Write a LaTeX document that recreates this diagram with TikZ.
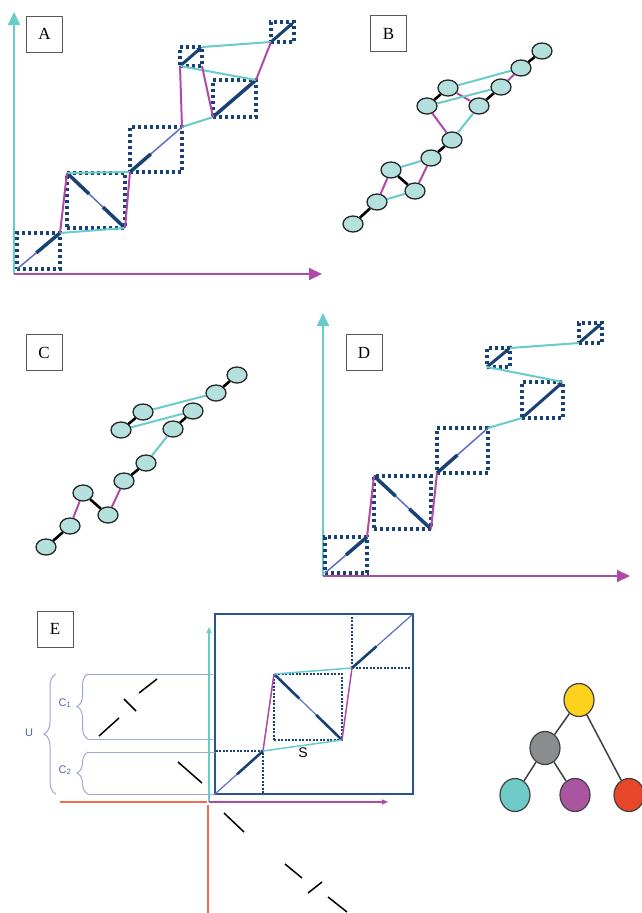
\documentclass[tikz,border=0pt]{standalone}
\usepackage{fontspec}
\setmainfont{Liberation Serif}
\setsansfont{Liberation Sans}
\usetikzlibrary{arrows.meta,calc,shapes.geometric,decorations.pathreplacing}
\definecolor{cteal}{RGB}{104,204,202}
\definecolor{cmag}{RGB}{176,74,168}
\definecolor{cnavy}{RGB}{24,66,115}
\definecolor{cblue}{RGB}{92,112,196}
\definecolor{cbead}{RGB}{180,224,222}
\definecolor{clav}{RGB}{160,168,212}
\definecolor{clabel}{RGB}{80,100,170}
\definecolor{corange}{RGB}{240,110,80}
\definecolor{cframe}{RGB}{40,85,145}
\definecolor{tyellow}{RGB}{252,210,30}
\definecolor{tgray}{RGB}{138,140,142}
\definecolor{tteal}{RGB}{110,203,200}
\definecolor{tpurple}{RGB}{170,85,160}
\definecolor{tred}{RGB}{232,70,40}

\begin{document}
\begin{tikzpicture}[x=1pt,y=-1pt,
	panel/.style={draw=black!65,line width=0.9pt,minimum width=36pt,minimum height=36pt,inner sep=0pt,font=\fontsize{17}{17}\selectfont},
	dotbox/.style={draw=cnavy,line width=3.2pt,dash pattern=on 3pt off 3pt,inner sep=0pt,outer sep=0pt},
	finebox/.style={draw=cnavy,line width=2pt,dash pattern=on 2pt off 1.5pt,inner sep=0pt,outer sep=0pt},
	bead/.style={ellipse,draw=black!85,fill=cbead,line width=1.3pt,minimum width=20pt,minimum height=16pt,inner sep=0pt},
	ball/.style={ellipse,draw=black!75,line width=1.2pt,minimum width=30pt,minimum height=33pt,inner sep=0pt},
	tline/.style={cteal,line width=2pt},
	mline/.style={cmag,line width=2pt},
	kline/.style={black,line width=2.6pt},
	thickseg/.style={cnavy,line width=3.5pt},
	thinseg/.style={cblue,line width=1.5pt},
	arrowseg/.style={cnavy,line width=3pt,-{Latex[length=5pt,width=6pt]}},
	axisline/.style={line width=2pt,-{Triangle[length=13pt,width=12pt]}}]
		\fill[white] (0,0) rectangle (642,913);
		\useasboundingbox (0,0) rectangle (642,913);

		% A
		\draw[axisline,cteal] (14,274) -- (14,12);
		\draw[axisline,cmag] (14,274) -- (322,274);
		\node[panel] (labA) at (44.5,34) {A};
		\draw
		node[dotbox,minimum width=43pt,minimum height=36pt] (A1) at (38.5,251) {}
		node[dotbox,minimum width=58pt,minimum height=55pt] (A2) at (96,200.5) {}
		node[dotbox,minimum width=52pt,minimum height=45pt] (A3) at (156,149.5) {}
		node[dotbox,minimum width=22pt,minimum height=19pt] (A4) at (191,56.5) {}
		node[dotbox,minimum width=43pt,minimum height=37pt] (A5) at (234.5,98.5) {}
		node[dotbox,minimum width=23pt,minimum height=20pt] (A6) at (282.5,32) {};
		\draw[thinseg] (A1.south west) -- (A1.north east);
			\draw[thickseg] ($(A1.south west)!0.45!(A1.north east)$) -- (A1.north east);
		\draw[thinseg] (A2.north west) -- (A2.south east);
			\draw[thickseg] (A2.north west) -- ($(A2.north west)!0.38!(A2.south east)$);
			\draw[thickseg] ($(A2.north west)!0.62!(A2.south east)$) -- (A2.south east);
		\draw[thinseg] (A3.south west) -- (A3.north east);
			\draw[thickseg] (A3.south west) -- ($(A3.south west)!0.4!(A3.north east)$);
		\draw[arrowseg] (A4.south west) -- (A4.north east);
		\draw[thickseg] (A5.south west) -- (A5.north east);
		\draw[arrowseg] (A6.south west) -- (A6.north east);
		\draw[tline] (A1.north east) -- (A2.south east);
		\draw[tline] (A2.north west) -- (A3.south west);
		\draw[tline] (A3.north east) -- (A5.south west);
		\draw[tline] (A4.south west) -- (A5.north east);
		\draw[tline] (A4.north east) -- (A6.south west);
		\draw[mline] (A1.north east) -- (A2.north west);
		\draw[mline] (A2.south east) -- (A3.south west);
		\draw[mline] (A3.north east) -- (A4.south west);
		\draw[mline] (A4.south east) -- (A5.south west);
		\draw[mline] (A5.north east) -- (A6.south west);

		% B
		\node[panel] (labB) at (388.5,33.5) {B};
		\draw
		node[bead] (b1) at (353,224) {}
		node[bead] (b2) at (377,202) {}
		node[bead] (b3) at (391,170) {}
		node[bead] (b4) at (415,191) {}
		node[bead] (b5) at (431,158) {}
		node[bead] (b6) at (452,140) {}
		node[bead] (b7) at (427,106) {}
		node[bead] (b8) at (448,88) {}
		node[bead] (b9) at (479,106) {}
		node[bead] (b10) at (501,87) {}
		node[bead] (b11) at (521,68) {}
		node[bead] (b12) at (542,51) {};
		\draw[kline] (b1) -- (b2);
		\draw[kline] (b3) -- (b4);
		\draw[kline] (b5) -- (b6);
		\draw[kline] (b7) -- (b8);
		\draw[kline] (b9) -- (b10);
		\draw[kline] (b11) -- (b12);
		\draw[mline] (b2) -- (b3);
		\draw[mline] (b4) -- (b5);
		\draw[mline] (b7) -- (b6);
		\draw[mline] (b8) -- (b9);
		\draw[mline] (b10) -- (b11);
		\draw[tline] (b2) -- (b4);
		\draw[tline] (b3) -- (b5);
		\draw[tline] (b6) -- (b9);
		\draw[tline] (b7) -- (b10);
		\draw[tline] (b8) -- (b11);

		% C
		\node[panel] (labC) at (44,352.5) {C};
		\draw
		node[bead] (c1) at (46,547) {}
		node[bead] (c2) at (70,526) {}
		node[bead] (c3) at (83,493) {}
		node[bead] (c4) at (108,515) {}
		node[bead] (c5) at (124,481) {}
		node[bead] (c6) at (146,463) {}
		node[bead] (c7) at (173,429) {}
		node[bead] (c8) at (193,411) {}
		node[bead] (c9) at (121,430) {}
		node[bead] (c10) at (143,412) {}
		node[bead] (c11) at (216,393) {}
		node[bead] (c12) at (237,375) {};
		\draw[kline] (c1) -- (c2);
		\draw[kline] (c3) -- (c4);
		\draw[kline] (c5) -- (c6);
		\draw[kline] (c7) -- (c8);
		\draw[kline] (c9) -- (c10);
		\draw[kline] (c11) -- (c12);
		\draw[mline] (c2) -- (c3);
		\draw[mline] (c4) -- (c5);
		\draw[tline] (c6) -- (c7);
		\draw[tline] (c9) -- (c8);
		\draw[tline] (c10) -- (c11);

		% D
		\draw[axisline,cteal] (323,576) -- (323,313);
		\draw[axisline,cmag] (323,576) -- (630,576);
		\node[panel] (labD) at (364,352.5) {D};
		\draw
		node[dotbox,minimum width=42pt,minimum height=36pt] (D1) at (346,555) {}
		node[dotbox,minimum width=57pt,minimum height=53pt] (D2) at (402.5,502.5) {}
		node[dotbox,minimum width=51pt,minimum height=45pt] (D3) at (462.5,450.5) {}
		node[dotbox,minimum width=41pt,minimum height=36pt] (D4) at (542.5,400) {}
		node[dotbox,minimum width=23pt,minimum height=19pt] (D5) at (498.5,357.5) {}
		node[dotbox,minimum width=23pt,minimum height=20pt] (D6) at (590.5,333) {};
		\draw[thinseg] (D1.south west) -- (D1.north east);
			\draw[thickseg] ($(D1.south west)!0.5!(D1.north east)$) -- (D1.north east);
		\draw[thinseg] (D2.north west) -- (D2.south east);
			\draw[thickseg] (D2.north west) -- ($(D2.north west)!0.38!(D2.south east)$);
			\draw[thickseg] ($(D2.north west)!0.62!(D2.south east)$) -- (D2.south east);
		\draw[thinseg] (D3.south west) -- (D3.north east);
			\draw[thickseg] (D3.south west) -- ($(D3.south west)!0.4!(D3.north east)$);
		\draw[arrowseg] (D4.south west) -- (D4.north east);
		\draw[arrowseg] (D5.south west) -- (D5.north east);
		\draw[arrowseg] (D6.south west) -- (D6.north east);
		\draw[mline] (D1.north east) -- (D2.north west);
		\draw[mline] (D2.south east) -- (D3.south west);
		\draw[tline] (D3.north east) -- (D4.south west);
		\draw[tline] (D4.north east) -- (D5.south west);
		\draw[tline] (D5.north east) -- (D6.south west);

		% E
		\node[panel] (labE) at (55,629) {E};
		\draw[corange,line width=1.6pt] (60,802) -- (207,802);
		\draw[corange,line width=1.6pt] (208,805) -- (208,913);
		\draw[cteal,line width=1.2pt,-{Triangle[length=6pt,width=5pt]}] (209,802) -- (209,627);
		\draw[cmag,line width=1.2pt,-{Triangle[length=6pt,width=5pt]}] (209,802) -- (388,802);
		\draw
		node[finebox,minimum width=48pt,minimum height=43pt] (E1) at (239,772.5) {}
		node[finebox,minimum width=68pt,minimum height=66pt] (E2) at (308,707) {}
		node[finebox,minimum width=61pt,minimum height=54pt] (E3) at (382.5,641) {}
		node[draw=cframe,line width=2.4pt,minimum width=198pt,minimum height=180pt,inner sep=0pt,outer sep=0pt] (Eframe) at (314,704) {};
		\draw[thinseg,line width=1.2pt] (E1.south west) -- (E1.north east);
			\draw[thickseg,line width=2.6pt] ($(E1.south west)!0.46!(E1.north east)$) -- (E1.north east);
		\draw[thinseg,line width=1.2pt] (E2.north west) -- (E2.south east);
			\draw[thickseg,line width=2.6pt] (E2.north west) -- ($(E2.north west)!0.37!(E2.south east)$);
			\draw[thickseg,line width=2.6pt] ($(E2.north west)!0.62!(E2.south east)$) -- (E2.south east);
		\draw[thinseg,line width=1.2pt] (E3.south west) -- (E3.north east);
			\draw[thickseg,line width=2.6pt] (E3.south west) -- ($(E3.south west)!0.4!(E3.north east)$);
		\draw[mline,line width=1.5pt] (E1.north east) -- (E2.north west);
		\draw[tline,line width=1.5pt] (E1.north east) -- (E2.south east);
		\draw[tline,line width=1.5pt] (E2.north west) -- (E3.south west);
		\draw[mline,line width=1.5pt] (E2.south east) -- (E3.south west);
		\node[font=\sffamily\fontsize{14}{14}\selectfont] (sE) at (303,753) {S};
		\draw[clav,line width=1pt,decorate,decoration={brace,amplitude=12pt}] (56,794) -- (56,674);
		\draw[clav,line width=1pt,decorate,decoration={brace,amplitude=11pt}] (88,739) -- (88,674);
		\draw[clav,line width=1pt,decorate,decoration={brace,amplitude=11pt}] (88,794) -- (88,752);
		\draw[clav,line width=1pt] (88,674) -- (213,674);
		\draw[clav,line width=1pt] (88,739) -- (213,739);
		\draw[clav,line width=1pt] (88,752) -- (215,752);
		\draw[clav,line width=1pt] (88,794) -- (215,794);
		\node[text=clabel,font=\sffamily\fontsize{11}{11}\selectfont] (lC1) at (65,703) {C\textsubscript{1}};
		\node[text=clabel,font=\sffamily\fontsize{11}{11}\selectfont] (lC2) at (65,770) {C\textsubscript{2}};
		\node[text=clabel,font=\sffamily\fontsize{11}{11}\selectfont] (lU) at (29,733) {U};
		\draw[black,line width=1.5pt] (139,693) -- (157,679);
		\draw[black,line width=1.5pt] (124,699) -- (136,711);
		\draw[black,line width=1.5pt] (99,736) -- (119,718);
		\draw[black,line width=1.5pt] (178,762) -- (202,783);
		\draw[black,line width=1.5pt] (224,813) -- (244,832);
		\draw[black,line width=1.5pt] (285,864) -- (302,878);
		\draw[black,line width=1.5pt] (308,893) -- (322,882);
		\draw[black,line width=1.5pt] (328,897) -- (347,912);

		% tree
		\draw
		node[ball,fill=tyellow] (ty) at (579,700) {}
		node[ball,fill=tgray] (tg) at (545,748) {}
		node[ball,fill=tteal] (tt) at (515,795) {}
		node[ball,fill=tpurple] (tp) at (575,795) {}
		node[ball,fill=tred] (tr) at (629,795) {};
		\draw[black!75,line width=1.5pt] (ty) -- (tg);
		\draw[black!75,line width=1.5pt] (ty) -- (tr);
		\draw[black!75,line width=1.5pt] (tg) -- (tt);
		\draw[black!75,line width=1.5pt] (tg) -- (tp);
\end{tikzpicture}
\end{document}
